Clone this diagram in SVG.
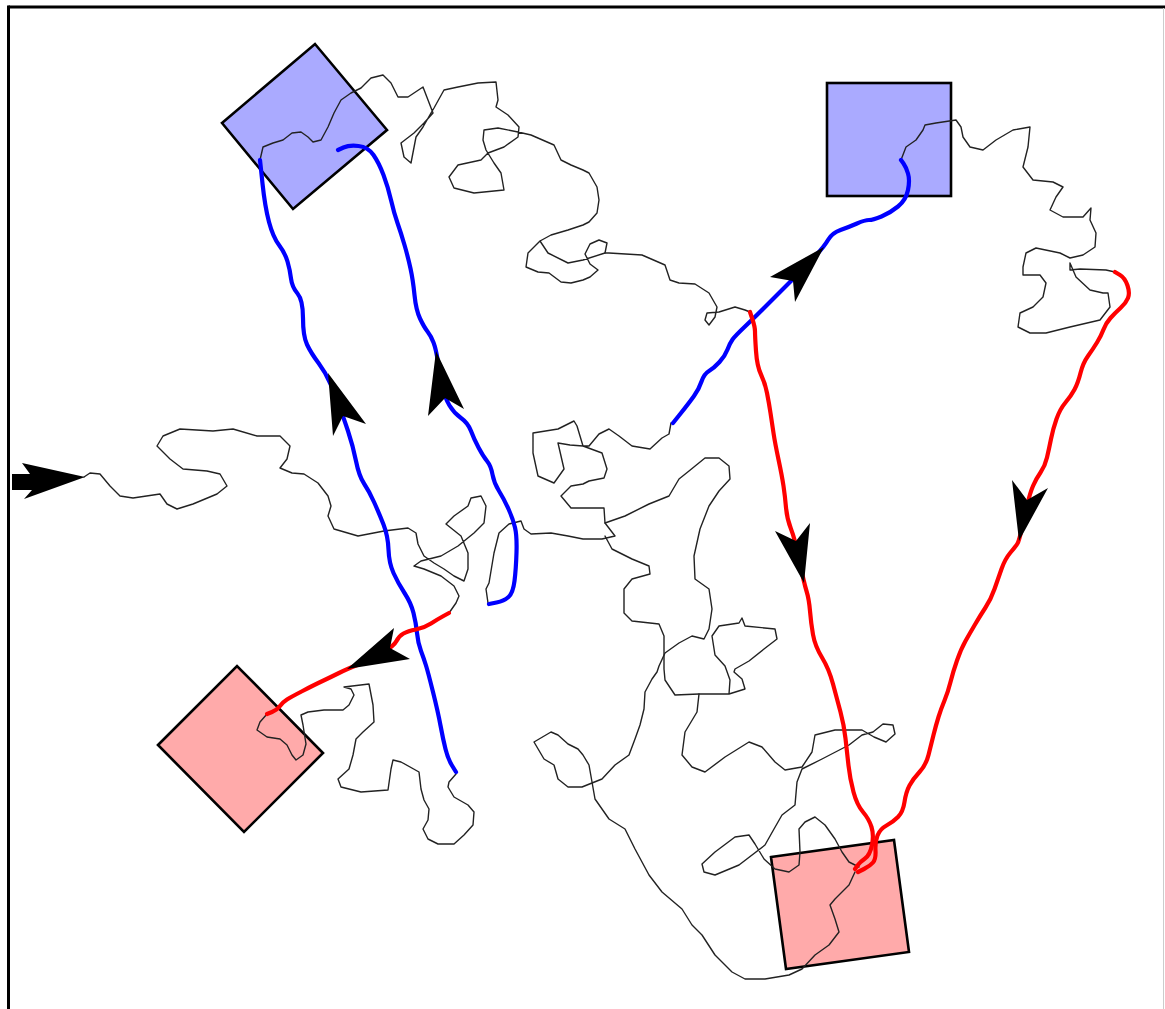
<svg xmlns="http://www.w3.org/2000/svg" width="1165" height="1009" viewBox="0 0 1165 1009">
<style>
.blue{fill:#aaaaff;stroke:#000;stroke-width:2.6;stroke-linejoin:miter}
.pink{fill:#ffaaaa;stroke:#000;stroke-width:2.6;stroke-linejoin:miter}
.walk{fill:none;stroke:#222;stroke-width:1.4;stroke-linejoin:round;stroke-linecap:round}
.bl{fill:none;stroke:#0000ff;stroke-width:4.2;stroke-linejoin:round;stroke-linecap:round}
.rd{fill:none;stroke:#ff0000;stroke-width:4.2;stroke-linejoin:round;stroke-linecap:round}
.ah{fill:#000;stroke:none}
</style>
<rect x="0" y="0" width="1165" height="1009" fill="#fff"/>
<line x1="8.5" y1="7" x2="1165" y2="7" stroke="#000" stroke-width="3"/>
<line x1="8.5" y1="5.5" x2="8.5" y2="1009" stroke="#000" stroke-width="3"/>
<line x1="1163.5" y1="8" x2="1163.5" y2="1009" stroke="#ccc" stroke-width="1"/>
<g id="node-blue-tl"><polygon class="blue" points="222,123 315,44 387,130 293,209"/></g>
<g id="node-blue-tr"><rect class="blue" x="827" y="83" width="124" height="113"/></g>
<g id="node-pink-bl"><polygon class="pink" points="158,745 237,666 323,753 244,832"/></g>
<g id="node-pink-br"><polygon class="pink" points="771,857 894,840 909,952 786,969"/></g>
<g id="connectors">
<polyline class="walk" points="84,477 90,473 100,474 110,486 120,496 133,498 160,494 167,504 177,509 193,504 217,494 227,486 220,474 207,471 183,469 170,459 157,446 163,436 180,429 213,431 233,429 257,436 280,436 290,446 287,459 280,468 292,473 304,474 318,483 328,496 331,506 328,516 334,529 358,536 384,531 408,528 416,533 418,544 424,556 434,563 444,569 454,576 464,581 468,569 468,553 461,536 451,528 446,524 454,516 468,506 471,498 481,496 486,506 484,523 474,533 458,546 441,556 421,561 414,566 424,569 441,576 454,586 459,596 456,603 449,613"/>
<polyline class="walk" points="267,714 260,722 257,730 267,737 280,739 287,745 292,755 296,760 303,755 306,744 303,725 301,715 308,712 324,710 343,710 349,705 354,695 351,689 344,687 369,684 373,705 374,722 363,732 356,739 353,755 349,769 338,779 341,787 361,792 388,790 391,769 393,760 401,762 419,772 421,789 424,800 429,809 428,820 423,829 428,839 438,844 454,844 464,835 473,825 474,812 468,805 454,797 448,787 449,782 456,774"/>
<polyline class="walk" points="260,160 263,147 273,143 283,140 292,133 301,132 308,137 313,142 321,140 328,127 334,113 341,100 351,93 361,88 371,78 383,75 391,83 398,97 408,97 423,87 428,100 433,113 424,123 414,133 401,143 404,157 411,163 416,137 423,127 431,113 434,108 444,90 458,87 478,83 496,82 498,100 496,107 508,115 519,127 518,137 504,147 488,153 481,160 458,165 449,177 454,188 474,193 504,190 501,173 494,163 486,150 483,140 484,130 498,128 518,132 531,135 554,145 561,160 571,165 583,170 589,173 597,187 599,200 597,213 589,222 583,225 568,230 551,235 540,241 548,253 568,263 583,260 605,253 607,243 599,240 590,244 585,254 590,264 598,270 590,277 583,280 571,283 561,282 549,273 538,272 526,267 528,253 540,241"/>
<polyline class="walk" points="605,253 609,253 642,255 665,265 670,280 679,283 695,284 709,293 717,307 715,317 709,325 705,320 707,313 719,312 735,307 745,310 750,312"/>
<polyline class="walk" points="901,160 906,147 916,140 923,130 925,125 936,123 956,120 961,127 963,137 970,147 983,150 996,140 1013,130 1030,127 1028,147 1023,167 1033,180 1053,182 1063,187 1056,197 1050,210 1063,217 1083,217 1091,208 1090,220 1096,233 1095,247 1083,255 1070,258 1060,253 1036,248 1026,253 1023,267 1023,275 1040,275 1046,283 1043,297 1033,307 1020,313 1018,327 1030,333 1046,333 1070,327 1100,320 1110,307 1108,293 1103,293 1090,290 1076,277 1070,263 1070,270 1080,269 1106,270 1115,272"/>
<polyline class="walk" points="671,423 669,434 662,438 650,449 632,446 619,436 609,429 599,434 589,446 583,446 577,426 574,421 558,429 533,433 533,453 538,476 554,483 564,469 558,443 570,445 583,446 602,453 607,469 604,478 589,481 583,484 571,486 561,496 571,508 583,508 604,508 605,523 615,536 602,539 583,539 568,536 551,533 531,534 524,529 521,521 509,524 499,533 494,553 489,583 486,589 488,603"/>
<polyline class="walk" points="605,523 625,516 649,504 669,496 679,479 689,471 705,458 719,458 729,466 730,479 719,491 709,506 700,529 694,556 695,579 709,589 712,609 709,629 704,639 692,636 679,643 665,653 659,666 657,672 652,679 645,692 644,709 640,725 635,739 629,755 615,765 602,779 582,787 568,787 558,779 554,765 544,759 534,742 551,732 558,735 568,744 578,749 583,755 589,765 595,799 609,819 625,829 635,849 649,875 662,892 682,909 692,925 702,935 715,955 732,972 745,979 765,979 789,975 802,969 815,955 829,945 839,932 835,919 830,905 835,899 849,885 855,872"/>
<polyline class="walk" points="605,536 612,549 632,559 649,566 650,574 632,579 624,589 624,613 632,621 659,624 664,636 664,669 665,680 675,695 699,694 729,694 745,689 742,679 734,672 735,669 749,661 764,649 777,639 775,629 745,626 742,618 739,623 719,626 712,636 715,655 725,666 730,680 729,694"/>
<polyline class="walk" points="699,694 697,712 685,732 682,755 692,767 705,772 725,757 749,742 762,747 775,762 785,770 802,767 812,752 815,735 835,730 862,730 874,737 886,742 895,734 893,725 883,724 873,732 862,735 849,745 822,759 802,769 797,782 795,805 782,815 774,829 765,845 739,865 715,875 704,872 702,864 715,852 735,837 749,835 755,844 764,859 775,869 789,872 799,865 800,852 799,829 805,822 815,817 825,825 835,839 842,852 849,862 859,867"/>
<path class="bl" d="M456,772 L452,765.5 Q448,759 445.5,749 Q443,739 440.5,725.5 Q438,712 433,692 Q428,672 426,665.5 Q424,659 421,651 Q418,643 417,633 Q416,623 413.5,613 Q411,603 404.5,593 Q398,583 393.5,573 Q389,563 388.5,549.5 Q388,536 383.5,524.5 Q379,513 374,502 Q369,491 364,483.5 Q359,476 356,461 Q353,446 348,431 Q343,416 339,405.5 Q335,395 330.5,384 Q326,373 318.5,363 Q311,353 307,344.5 Q303,336 303,318 Q303,300 297.5,293.5 Q292,287 291,278.5 Q290,270 287.5,261.5 Q285,253 279,245 Q273,237 269,222 Q265,207 262.5,183.5 L260,160"/>
<path class="bl" d="M338,150 L343.5,147.5 Q349,145 358.5,146 Q368,147 373.5,155 Q379,163 383.5,175 Q388,187 391,200 Q394,213 397.5,223 Q401,233 404.5,245 Q408,257 410.5,268.5 Q413,280 414.5,295 Q416,310 420,318.5 Q424,327 427.5,331.5 Q431,336 433.5,342.5 Q436,349 438,362 Q440,375 442.5,386.5 Q445,398 449.5,405.5 Q454,413 461,418 Q468,423 471,431 Q474,439 478.5,447.5 Q483,456 487,461 Q491,466 492.5,474.5 Q494,483 499,491 Q504,499 508.5,509 Q513,519 515,527.5 Q517,536 516.5,552.5 Q516,569 514.5,581 Q513,593 508.5,597 Q504,601 496.5,602.5 L489,604"/>
<path class="bl" d="M673,423 L681,413 Q689,403 694,396 Q699,389 701.5,381.5 Q704,374 709,371 Q714,368 719.5,362 Q725,356 727.5,349.5 Q730,343 732.5,339.5 Q735,336 745,326.5 Q755,317 763.5,308.5 Q772,300 780.5,291.5 Q789,283 795.5,276.5 Q802,270 813,258.5 Q824,247 828,240 Q832,233 840.5,230 Q849,227 857,223.5 Q865,220 869,220 Q873,220 881.5,216.5 Q890,213 898,206.5 Q906,200 908,190 Q910,180 908,173.5 Q906,167 903.5,163.5 L901,160"/>
<path class="rd" d="M449,613 L443.5,616 Q438,619 431,623.5 Q424,628 416,629.5 Q408,631 403.5,633.5 Q399,636 396.5,641 Q394,646 382,653 Q370,660 358.5,664.5 Q347,669 339,673 Q331,677 322.5,681 Q314,685 302.5,691 Q291,697 287,699.5 Q283,702 280,706 Q277,710 272,712 L267,714"/>
<path class="rd" d="M750,312 L752.5,319.5 Q755,327 755,331.5 Q755,336 756,351 Q757,366 761,374.5 Q765,383 767,393 Q769,403 770.5,413 Q772,423 773.5,433 Q775,443 778.5,459.5 Q782,476 783.5,486 Q785,496 786,507.5 Q787,519 791,529 Q795,539 799.5,561 Q804,583 806.5,591 Q809,599 810,611 Q811,623 813,634.5 Q815,646 822,657.5 Q829,669 833,684 Q837,699 840.5,712 Q844,725 845.5,738.5 Q847,752 848.5,765.5 Q850,779 853.5,792 Q857,805 863,812 Q869,819 871.5,827 Q874,835 872,845 Q870,855 865,858.5 Q860,862 857.5,865.5 L855,869"/>
<path class="rd" d="M1115,272 L1120,275 Q1125,278 1127.5,285.5 Q1130,293 1128,298 Q1126,303 1120.5,308 Q1115,313 1110.5,318 Q1106,323 1103.5,329.5 Q1101,336 1097,342.5 Q1093,349 1088,356 Q1083,363 1080.5,373 Q1078,383 1074.5,389.5 Q1071,396 1065.5,402.5 Q1060,409 1056.5,419 Q1053,429 1051,439 Q1049,449 1047,457.5 Q1045,466 1040.5,472.5 Q1036,479 1033,486 Q1030,493 1027.5,504 Q1025,515 1022,528 Q1019,541 1017.5,543.5 Q1016,546 1010.5,552.5 Q1005,559 1001.5,569 Q998,579 994.5,589 Q991,599 985.5,607.5 Q980,616 975,624.5 Q970,633 965.5,641 Q961,649 957,660.5 Q953,672 950.5,682 Q948,692 944.5,700.5 Q941,709 938.5,717 Q936,725 933.5,735 Q931,745 928.5,755 Q926,765 919.5,772 Q913,779 909.5,785.5 Q906,792 904.5,802 Q903,812 898,817 Q893,822 886.5,825.5 Q880,829 877.5,835.5 Q875,842 875.5,850.5 Q876,859 873,862.5 Q870,866 864,869 L858,872"/>
<polygon class="ah" points="328,373 366,424 343,416 333,436"/>
<polygon class="ah" points="436,351 464,409 445,398 428,416"/>
<polygon class="ah" points="347,669 394,628 390,648 410,659"/>
<polygon class="ah" points="824,247 795,302 793,281 770,277"/>
<polygon class="ah" points="804,583 775,531 796,541 810,523"/>
<polygon class="ah" points="1019,541 1012,480 1027,500 1048,488"/>
<polygon class="ah" points="12,474 30,474 22,463 85,477 24,499 32,490 12,490"/>
</g>
</svg>
